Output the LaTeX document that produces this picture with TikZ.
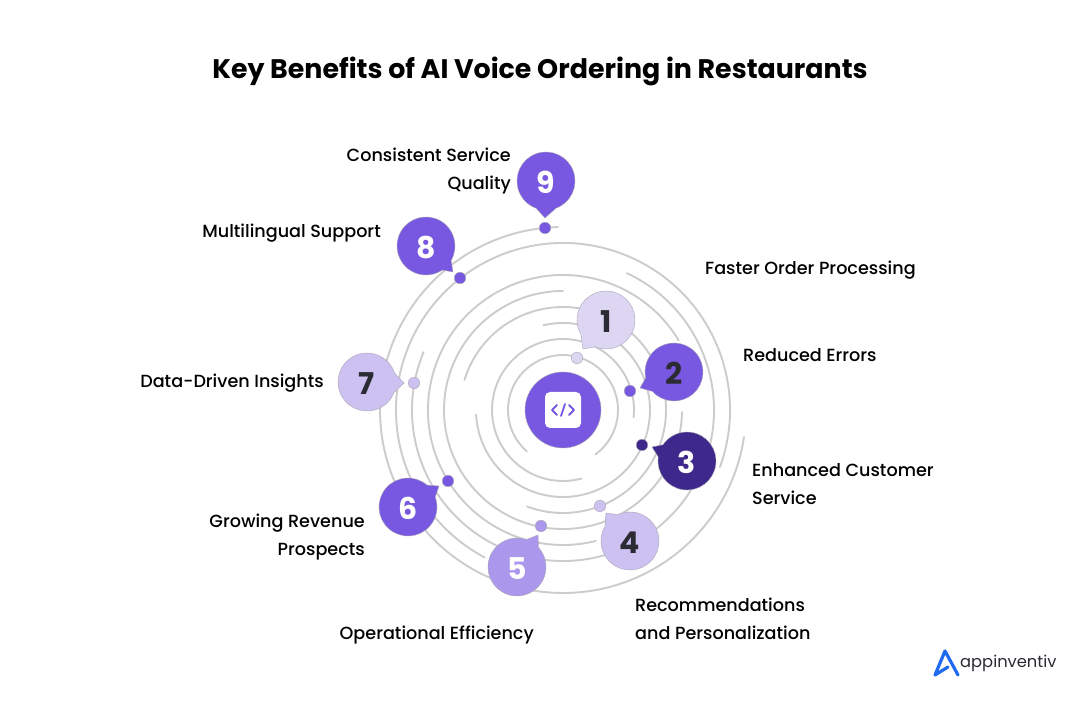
\documentclass[tikz,border=0pt]{standalone}
\usepackage{fontspec}
\setmainfont{Poppins}[UprightFont={* Medium},BoldFont={* Bold}]
\newfontfamily\logofont{Poppins}
\usetikzlibrary{calc}
\definecolor{ringc}{HTML}{CCCCCC}
\definecolor{purp}{HTML}{7858E0}
\definecolor{dark}{HTML}{3F288C}
\definecolor{lil}{HTML}{CDC1F2}
\definecolor{pale}{HTML}{DDD6F3}
\definecolor{mid}{HTML}{AB97EC}
\definecolor{ink}{HTML}{2B2B33}
\definecolor{edgec}{HTML}{A9A6B4}
\definecolor{logob}{HTML}{1F6BF0}
\tikzset{
 ring/.style={draw=ringc,line width=1.9pt},
 dotnode/.style={circle,minimum size=11.5pt,inner sep=0pt,draw=edgec,line width=.4pt},
 numnode/.style={font=\fontsize{30}{30}\selectfont\bfseries,inner sep=0pt},
 lab/.style={font=\fontsize{17.6}{28}\selectfont,text=black,inner sep=0pt,align=#1},
 lab/.default=left,
}
\newcommand{\bubble}[9]{%
 \coordinate (#1c) at (#2,#3);
 \coordinate (#1t) at (#4,#5);
 \draw[draw=edgec,line width=.4pt,fill=#8] ($(#1c)+(#7:29pt)$) arc[start angle=#7,end angle=#6+360,radius=29pt] -- (#1t) -- cycle;
 \node[numnode,text=#9] (#1n) at ($(#1c)+(0,-1.5)$) {\bubnum};
}
\newcommand{\bubnum}{}
\begin{document}
\begin{tikzpicture}[x=1pt,y=1pt]
\useasboundingbox (0,0) rectangle (1080,701);
\fill[white] (0,0) rectangle (1080,701);
\coordinate (ctr) at (563,291);
\foreach \r/\s/\e in {183/91.6/351.5,167/-20/242,151/157.5/425,135/31/284,119/90/359,103/249.6/523,87/183/463,71/-6/285,55/306/589}
  \draw[ring,line cap=round] ($(ctr)+(\s:\r pt)$) arc[start angle=\s,end angle=\e,radius=\r pt];
% hub
\node[circle,fill=purp,draw=edgec,line width=.4pt,minimum size=76pt,inner sep=0pt] (hub) at (ctr) {};
\node[fill=white,rounded corners=5pt,minimum size=36pt,inner sep=0pt] (chip) at (ctr) {};
\draw[purp,line width=1.8pt,line cap=round,line join=round]
  ($(chip)+(-6,5)$) -- ($(chip)+(-11,0)$) -- ($(chip)+(-6,-5)$)
  ($(chip)+(2,6)$) -- ($(chip)+(-2,-6)$)
  ($(chip)+(6,5)$) -- ($(chip)+(11,0)$) -- ($(chip)+(6,-5)$);
% dots
\node[dotnode,fill=pale] (d1) at (577,343) {};
\node[dotnode,fill=purp] (d2) at (630,310) {};
\node[dotnode,fill=dark] (d3) at (642,256) {};
\node[dotnode,fill=lil] (d4) at (600,195) {};
\node[dotnode,fill=mid] (d5) at (541,175) {};
\node[dotnode,fill=purp] (d6) at (448,220) {};
\node[dotnode,fill=lil] (d7) at (414,318) {};
\node[dotnode,fill=purp] (d8) at (460,423) {};
\node[dotnode,fill=purp] (d9) at (545,473) {};
% bubbles
\renewcommand{\bubnum}{1}\bubble{b1}{606}{381}{583}{352}{210}{248}{pale}{ink}
\renewcommand{\bubnum}{2}\bubble{b2}{674}{329}{640}{313}{192}{222}{purp}{ink}
\renewcommand{\bubnum}{3}\bubble{b3}{687}{240}{652}{254}{146}{172}{dark}{white}
\renewcommand{\bubnum}{4}\bubble{b4}{630}{160}{606}{188}{115}{150}{lil}{ink}
\renewcommand{\bubnum}{5}\bubble{b5}{517}{134}{538}{166}{42}{71}{mid}{white}
\renewcommand{\bubnum}{6}\bubble{b6}{408}{194}{439}{215}{20}{49}{purp}{white}
\renewcommand{\bubnum}{7}\bubble{b7}{367}{319}{404}{318}{-21}{18}{lil}{ink}
\renewcommand{\bubnum}{8}\bubble{b8}{426}{455}{453}{429}{-56}{-30}{purp}{white}
\renewcommand{\bubnum}{9}\bubble{b9}{546}{520}{545}{483}{-110}{-70}{purp}{white}
% labels
\node[font=\fontsize{26.85}{30}\selectfont\bfseries,inner sep=0pt] (title) at (540,630) {Key Benefits of AI Voice Ordering in Restaurants};
\node[lab=right,anchor=east] (l9) at (511,530) {Consistent Service\\Quality};
\node[lab,anchor=east] (l8) at (381,467.5) {Multilingual Support};
\node[lab,anchor=west] (l1) at (705,431) {Faster Order Processing};
\node[lab,anchor=west] (l2) at (743,346) {Reduced Errors};
\node[lab,anchor=west] (l3) at (752,217) {Enhanced Customer\\Service};
\node[lab,anchor=west] (l4) at (635,82) {Recommendations\\and Personalization};
\node[lab,anchor=east] (l5) at (534,66) {Operational Efficiency};
\node[lab=right,anchor=east] (l6) at (365,164) {Growing Revenue\\Prospects};
\node[lab,anchor=east] (l7) at (324,317.5) {Data-Driven Insights};
% logo
\coordinate (la) at (945,50);
\draw[logob,line width=3.2pt,line join=round,line cap=round] (958,26) -- (la) -- (935,26) -- (948,34);
\node[font=\logofont\fontsize{16.3}{20}\selectfont,text=ink,anchor=west,inner sep=0pt] (logo) at (960,38) {appinventiv};
\end{tikzpicture}
\end{document}
